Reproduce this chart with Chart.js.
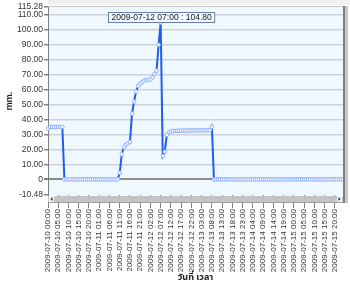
<!DOCTYPE html>
<html>
<head>
<meta charset="utf-8">
<script src="https://cdn.jsdelivr.net/npm/chart.js@4/dist/chart.umd.min.js"></script>
<style>
    body { margin: 0; background: #ffffff; }
    #wrap { width: 350px; height: 284px; }
</style>
</head>
<body>
<div id="wrap"><canvas id="rainChart" width="350" height="284"></canvas></div>
<script>
// Data (hourly rain gauge readings, 2009-07-10 00:00 onwards)
const startDay = 10;
const hourCount = 145;
const tickEvery = 5;

const rainValues = [
    34, 35, 35, 35, 35, 35, 35, 35,
    0, 0, 0, 0, 0, 0, 0, 0, 0, 0, 0, 0, 0, 0, 0, 0, 0, 0, 0, 0, 0, 0, 0, 0, 0, 0, 0,
    4.4, 16.7, 21.4, 23, 24, 25, 44, 52, 58.7, 62.5, 64, 65, 66, 66.5, 66.5, 66.8, 68.3, 70.5, 72.7, 90, 104.8,
    15.6, 18.5, 29.7, 31.5, 32,
    32.3, 32.4, 32.5, 32.5, 32.6, 32.6, 32.6, 32.6, 32.7, 32.7, 32.7, 32.7, 32.7, 32.8, 32.8, 32.8, 32.8, 32.8, 32.9,
    35.2,
    0, 0, 0, 0, 0, 0, 0, 0, 0, 0, 0, 0, 0, 0, 0, 0, 0, 0, 0, 0, 0, 0, 0, 0, 0, 0, 0, 0, 0, 0, 0, 0,
    0, 0, 0, 0, 0, 0, 0, 0, 0, 0, 0, 0, 0, 0, 0, 0, 0, 0, 0, 0, 0, 0, 0, 0, 0, 0, 0, 0, 0, 0, 0, 0
];

const yTickValues = [-10.48, 0, 10, 20, 30, 40, 50, 60, 70, 80, 90, 100, 110, 115.28];
const yMin = -10.48;
const yMax = 115.28;

const xTitle = 'วันที่ เวลา';
const yTitle = 'mm.';

// Category labels: one per hour
const pad = n => String(n).padStart(2, '0');
const timeLabels = [];
for (let i = 0; i < hourCount; i++) {
    const day = startDay + Math.floor(i / 24);
    timeLabels.push(`2009-07-${pad(day)} ${pad(i % 24)}:00`);
}

const FONT = "'Liberation Sans', Arial, sans-serif";

// Frame, scrollbar and peak label drawing
const framePlugin = {
    id: 'frame',
    beforeDraw(chart) {
        const { ctx, chartArea: a } = chart;
        ctx.save();
        ctx.fillStyle = '#ffffff';
        ctx.fillRect(0, 0, chart.width, chart.height);
        ctx.fillStyle = '#f0f0f0';
        ctx.fillRect(a.left, 0, chart.width - a.left, a.top - 2);
        ctx.fillStyle = '#f0f8ff';
        ctx.fillRect(a.left, a.top, a.right - a.left, a.bottom - a.top);
        ctx.strokeStyle = '#c8c8c8';
        ctx.lineWidth = 1;
        ctx.beginPath();
        ctx.moveTo(a.left, a.top - 0.5);
        ctx.lineTo(a.right, a.top - 0.5);
        ctx.stroke();
        ctx.restore();
    },
    afterDraw(chart) {
        const { ctx, chartArea: a } = chart;
        ctx.save();
        // right edge
        ctx.fillStyle = '#808080';
        ctx.fillRect(a.right, a.top - 1, 2, a.bottom - a.top + 9);
        ctx.fillStyle = '#c8c8c8';
        ctx.fillRect(a.right + 2, a.top - 1, 3, a.bottom - a.top + 9);
        // horizontal scrollbar
        const sy = a.bottom + 1;
        ctx.fillStyle = '#c4c4c4';
        ctx.fillRect(a.left, sy, a.right - a.left, 7);
        ctx.fillStyle = '#a0a0a0';
        ctx.fillRect(a.left, sy + 6, a.right - a.left, 1);
        [a.left + 1, a.right - 6].forEach((bx, k) => {
            ctx.fillStyle = '#f4f4f4';
            ctx.fillRect(bx, sy, 5, 6);
            ctx.fillStyle = '#202020';
            ctx.beginPath();
            if (k === 0) {
                ctx.moveTo(bx + 1.5, sy + 3); ctx.lineTo(bx + 3.5, sy + 1); ctx.lineTo(bx + 3.5, sy + 5);
            } else {
                ctx.moveTo(bx + 3.5, sy + 3); ctx.lineTo(bx + 1.5, sy + 1); ctx.lineTo(bx + 1.5, sy + 5);
            }
            ctx.closePath();
            ctx.fill();
        });
        // peak label
        const data = chart.data.datasets[0].data;
        let peak = 0;
        data.forEach((v, i) => { if (v > data[peak]) peak = i; });
        const pt = chart.getDatasetMeta(0).data[peak];
        const text = `${chart.data.labels[peak]} : ${data[peak].toFixed(2)}`;
        ctx.font = `8.5px ${FONT}`;
        const w = ctx.measureText(text).width + 6;
        const h = 10;
        const bx = Math.round(pt.x - w / 2) + 0.5;
        const by = Math.round(pt.y - h - 1) + 0.5;
        ctx.fillStyle = '#f0f8ff';
        ctx.fillRect(bx, by, w, h);
        ctx.strokeStyle = '#6a7fa8';
        ctx.lineWidth = 1;
        ctx.strokeRect(bx, by, w, h);
        ctx.fillStyle = '#202020';
        ctx.textAlign = 'center';
        ctx.textBaseline = 'middle';
        ctx.fillText(text, bx + w / 2, by + h / 2 + 0.5);
        ctx.restore();
    }
};

new Chart(document.getElementById('rainChart'), {
    type: 'line',
    data: {
        labels: timeLabels,
        datasets: [{
            data: rainValues,
            borderColor: '#1f5cf0',
            borderWidth: 2,
            pointRadius: 1.8,
            pointBorderWidth: 1,
            pointBorderColor: '#8fb0ff',
            pointBackgroundColor: '#ffffff',
            tension: 0
        }]
    },
    options: {
        responsive: false,
        animation: false,
        devicePixelRatio: 1,
        layout: { padding: { top: 7, right: 7, left: 0, bottom: 0 } },
        plugins: { legend: { display: false }, tooltip: { enabled: false } },
        scales: {
            x: {
                offset: false,
                afterFit: scale => { scale.height = 89; },
                border: { display: false },
                grid: {
                    drawOnChartArea: false,
                    drawTicks: true,
                    tickLength: 13,
                    color: '#808080'
                },
                ticks: {
                    autoSkip: false,
                    maxRotation: 90,
                    minRotation: 90,
                    padding: 1,
                    color: '#333333',
                    font: { family: FONT, size: 8 },
                    callback: (val, i) => (i % tickEvery === 0 ? timeLabels[i] : null)
                },
                title: {
                    display: true,
                    text: xTitle,
                    color: '#202020',
                    padding: { top: 0, bottom: 0 },
                    font: { family: "'Noto Sans Thai', 'Noto Sans', " + FONT, size: 9, weight: 'bold' }
                }
            },
            y: {
                min: yMin,
                max: yMax,
                afterFit: scale => { scale.width = 48; },
                afterBuildTicks: scale => { scale.ticks = yTickValues.map(v => ({ value: v })); },
                border: { color: '#808080', width: 1 },
                grid: {
                    color: ctx => (ctx.tick && ctx.tick.value === 0 ? '#8c8c8c' : (ctx.tick && (ctx.tick.value === yMin || ctx.tick.value === yMax) ? 'rgba(0,0,0,0)' : '#ccd2d8')),
                    lineWidth: ctx => (ctx.tick && ctx.tick.value === 0 ? 2 : 1.5),
                    tickLength: 4,
                    tickColor: '#808080'
                },
                ticks: {
                    autoSkip: false,
                    padding: 1,
                    color: '#333333',
                    font: { family: FONT, size: 8.5 },
                    callback: v => (v === 0 ? '0' : Number(v).toFixed(2))
                },
                title: {
                    display: true,
                    text: yTitle,
                    color: '#202020',
                    padding: { top: 4, bottom: 0 },
                    font: { family: FONT, size: 9, weight: 'bold' }
                }
            }
        }
    },
    plugins: [framePlugin]
});
</script>
</body>
</html>
